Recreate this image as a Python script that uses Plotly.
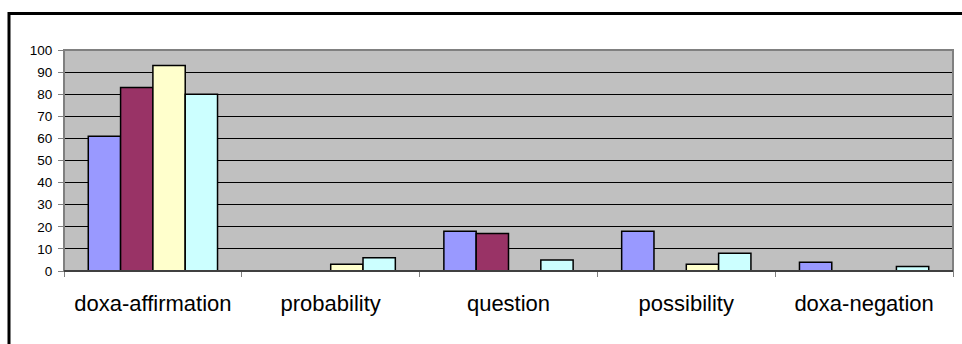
import plotly.graph_objects as go

categories = ["doxa-affirmation", "probability", "question", "possibility", "doxa-negation"]
series_names = ["Series 1", "Series 2", "Series 3", "Series 4"]
series1 = [61, 0, 18, 18, 4]
series2 = [83, 0, 17, 0, 0]
series3 = [93, 3, 0, 3, 0]
series4 = [80, 6, 5, 8, 2]
colors = ["#9999FF", "#993366", "#FFFFCC", "#CCFFFF"]
y_ticks = [0, 10, 20, 30, 40, 50, 60, 70, 80, 90, 100]

fig = go.Figure()
for name, vals, col in zip(series_names, [series1, series2, series3, series4], colors):
    fig.add_trace(go.Bar(
        x=categories,
        y=[v if v else None for v in vals],
        name=name,
        marker=dict(color=col, line=dict(color="black", width=1.5)),
    ))

W, H = 962, 344
L, R, T, B = 64, 9, 50, 73
pw, ph = W - L - R, H - T - B

def px(x):
    return (x - L) / pw

def py(y):
    return (H - B - y) / ph

fig.update_layout(
    width=W, height=H,
    margin=dict(l=L, r=R, t=T, b=B),
    paper_bgcolor="white",
    plot_bgcolor="#C0C0C0",
    barmode="group",
    bargap=0.273,
    bargroupgap=0,
    showlegend=False,
    font=dict(family="Liberation Sans, Arial, sans-serif", color="black"),
    xaxis=dict(
        tickson="boundaries",
        ticks="outside", ticklen=5, tickcolor="#808080", tickwidth=1,
        showline=True, linecolor="black", linewidth=1,
        showgrid=False,
        tickfont=dict(size=22, color="black"),
        ticklabelstandoff=13,
    ),
    yaxis=dict(
        range=[0, 100],
        tickvals=y_ticks,
        ticks="outside", ticklen=5, tickcolor="#808080", tickwidth=1,
        showline=True, linecolor="#808080", linewidth=1,
        showgrid=True, gridcolor="black", gridwidth=1,
        zeroline=False,
        tickfont=dict(size=13.5, color="black"),
        ticklabelstandoff=3,
    ),
    shapes=[
        dict(type="rect", xref="paper", yref="paper", x0=0, x1=1, y0=0, y1=1,
             line=dict(color="#808080", width=2), layer="above"),
        dict(type="line", xref="paper", yref="paper", x0=0, x1=1, y0=0, y1=0,
             line=dict(color="black", width=1), layer="above"),
        dict(type="rect", xref="paper", yref="paper",
             x0=px(9), x1=px(975), y0=py(13.5), y1=py(360),
             line=dict(color="black", width=3), layer="below"),
    ],
)

fig.write_html("out.html")
